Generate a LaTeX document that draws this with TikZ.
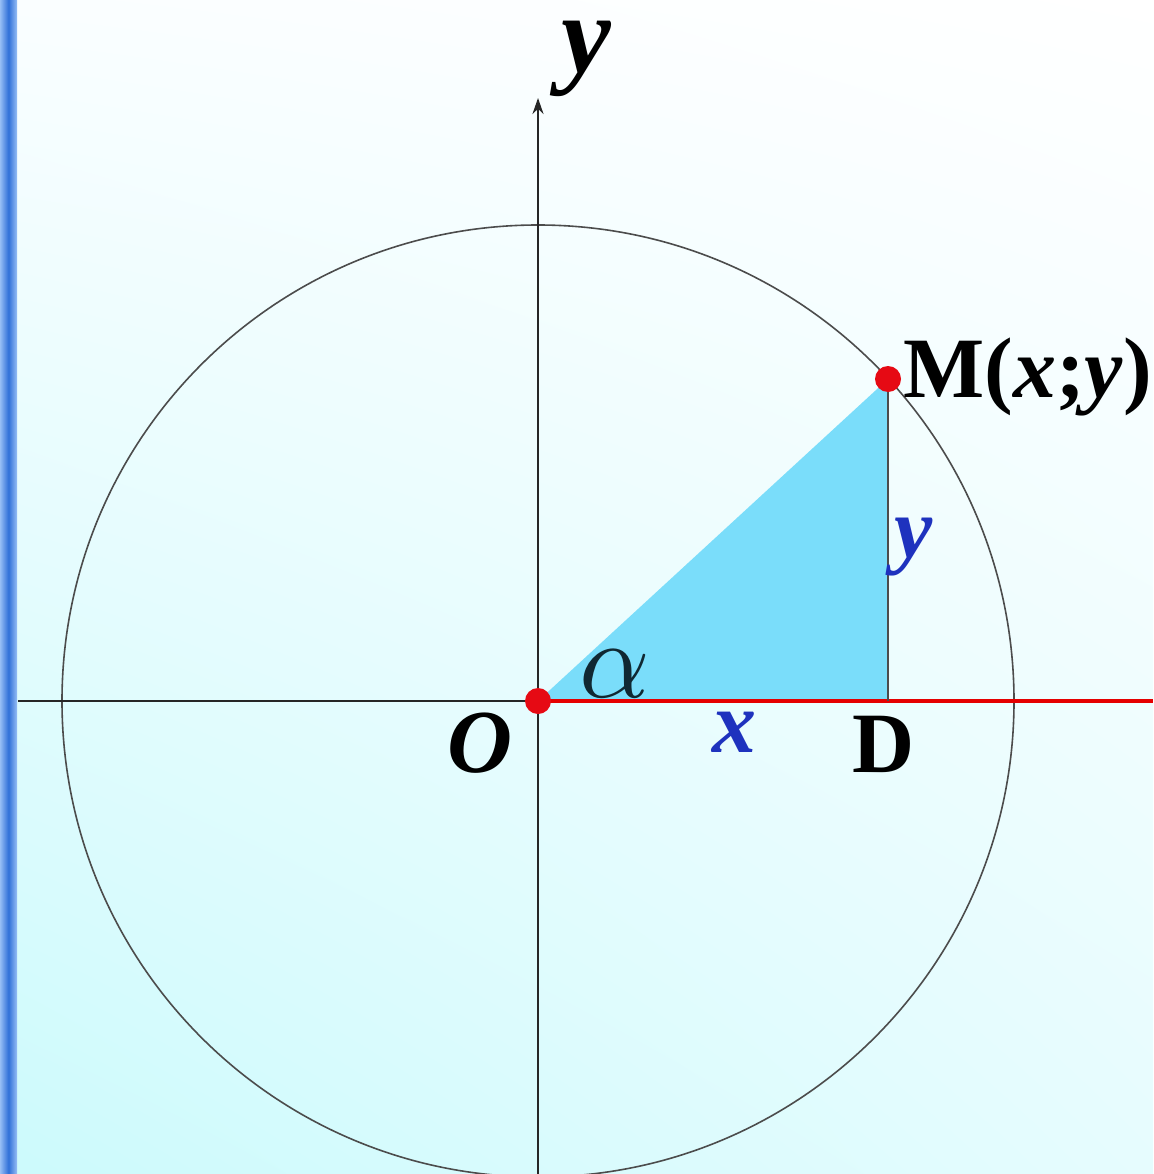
\documentclass[tikz,border=0pt]{standalone}
\usepackage{fontspec}
\setmainfont{Liberation Serif}
\usepackage{unicode-math}
\setmathfont{Latin Modern Math}
\usetikzlibrary{arrows.meta,shadings}
\definecolor{bgcyan}{RGB}{204,250,252}
\definecolor{bgmid}{RGB}{230,252,254}
\definecolor{bgtl}{RGB}{250,254,255}
\definecolor{barblue}{RGB}{48,112,216}
\definecolor{barlight}{RGB}{150,190,245}
\definecolor{trifill}{RGB}{122,221,250}
\definecolor{dotred}{RGB}{230,10,20}
\definecolor{labblue}{RGB}{30,50,190}
\definecolor{alphacol}{RGB}{16,40,50}
\tikzset{
  dotstyle/.style={circle,fill=dotred,inner sep=0pt,minimum size=26pt},
  biglab/.style={inner sep=0pt},
}
\begin{document}
\begin{tikzpicture}[x=1pt,y=-1pt]
\useasboundingbox (0,0) rectangle (1153,1174);
% background
\shade[upper left=bgtl,upper right=white,
       lower left=bgcyan,lower right=bgmid] (0,0) rectangle (1153,1174);
% left bar
\shade[left color=barlight,right color=barlight,middle color=barblue] (0,0) rectangle (17,1174);
% coordinates
\coordinate (O) at (538,701);
\coordinate (M) at (888,379);
\coordinate (D) at (888,701);
\coordinate (xl) at (18,701);
\coordinate (xr) at (1153,701);
\coordinate (yb) at (538,1174);
\coordinate (yt) at (538,98);
% triangle
\fill[trifill] (O) -- (M) -- (D) -- cycle;
% circle
\draw[line width=1.6pt,black!70] (O) circle[radius=476];
% axes
\draw[line width=2.6pt,black!85] (xl) -- (O);
\draw[line width=2.4pt,black!85,-{Stealth[length=16pt,width=11pt]}] (yb) -- (yt);
\draw[line width=3.5pt,red!90!black] (O) -- (xr);
\draw[line width=1.6pt,black!70] (M) -- (D);
% dots
\node[dotstyle] (Odot) at (O) {};
\node[dotstyle] (Mdot) at (M) {};
% labels
\node[biglab,font=\fontsize{112}{112}\selectfont\bfseries\itshape,anchor=base,text height=0.5em] (ylab) at (586,73) {y};
\node[biglab,font=\fontsize{86}{86}\selectfont\bfseries,anchor=base west] (Mlab) at (903,397) {M(\textit{x};\textit{y})};
\node[biglab,font=\fontsize{90}{90}\selectfont\bfseries\itshape,anchor=base] (Olab) at (480,772) {O};
\node[biglab,font=\fontsize{86}{86}\selectfont\bfseries,anchor=base] (Dlab) at (884,772) {D};
\node[biglab,font=\fontsize{88}{88}\selectfont\bfseries\itshape,text=labblue,anchor=base] (xlab) at (734,752) {x};
\node[biglab,font=\fontsize{86}{86}\selectfont\bfseries\itshape,text=labblue,anchor=base] (yblab) at (914,557) {y};
\node[biglab,font=\fontsize{110}{110}\selectfont,text=alphacol,anchor=base] (alab) at (615,697) {$\alpha$};
\end{tikzpicture}
\end{document}
